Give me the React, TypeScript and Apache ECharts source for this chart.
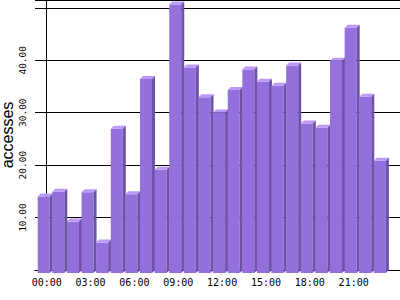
import React, { useEffect, useRef } from "react";
import * as echarts from "echarts";

const hours = [
  "00:00", "01:00", "02:00", "03:00", "04:00", "05:00", "06:00", "07:00",
  "08:00", "09:00", "10:00", "11:00", "12:00", "13:00", "14:00", "15:00",
  "16:00", "17:00", "18:00", "19:00", "20:00", "21:00", "22:00", "23:00",
];
const accesses = [
  14.6, 15.5, 9.8, 15.4, 5.8, 27.5, 15.0, 37.0, 19.7, 51.2, 39.2, 33.5,
  30.6, 34.9, 38.8, 36.5, 35.7, 39.6, 28.5, 27.7, 40.5, 46.8, 33.6, 21.4,
];
const xTickValues = [0, 3, 6, 9, 12, 15, 18, 21];
const yLabelValues = [10, 20, 30, 40];

const FRONT = "#9370DB";
const TOP = "#BB99F7";
const SIDE = "#6C53A8";

export default function App() {
  const ref = useRef<HTMLDivElement>(null);
  useEffect(() => {
    if (!ref.current) return;
    const chart = echarts.init(ref.current, undefined, { renderer: "svg" });
    const data = accesses.map((v, i) => [i, v]);
    chart.setOption({
      animation: false,
      backgroundColor: "#ffffff",
      grid: { left: 35, right: 0, top: 0, bottom: 30, containLabel: false, outerBoundsMode: "none" },
      xAxis: {
        type: "value",
        min: -0.8,
        max: 24.17,
        axisLine: { show: true, lineStyle: { color: "#000", width: 1 } },
        axisTick: { show: false },
        splitLine: { show: false },
        axisLabel: {
          customValues: xTickValues,
          formatter: (v: number) => hours[Math.round(v)] ?? "",
          fontFamily: "DejaVu Sans Mono",
          fontSize: 10,
          color: "#000",
          margin: 7,
        },
      },
      yAxis: {
        type: "value",
        min: 0,
        max: 51.5,
        interval: 10,
        name: "accesses",
        nameLocation: "middle",
        nameRotate: 90,
        nameGap: 20,
        nameMoveOverlap: false,
        nameTextStyle: { fontFamily: "Liberation Sans", fontSize: 16, color: "#000" },
        axisLine: { show: true, lineStyle: { color: "#000", width: 1 } },
        axisTick: { show: false },
        splitLine: { show: true, lineStyle: { color: "#000", width: 1 } },
        axisLabel: {
          rotate: 90,
          margin: 8,
          fontFamily: "DejaVu Sans Mono",
          fontSize: 9.5,
          color: "#000",
          formatter: (v: number) => (yLabelValues.includes(v) ? v.toFixed(2) : ""),
        },
      },
      series: [
        {
          type: "custom",
          data,
          renderItem: (params: any, api: any) => {
            const i = api.value(0);
            const v = api.value(1);
            const top = api.coord([i, v]);
            const base = api.coord([i, 0]);
            const xc = top[0];
            const yT = top[1];
            const y0 = base[1];
            const hw = 6;
            const d = 3;
            return {
              type: "group",
              children: [
                {
                  type: "rect",
                  shape: { x: xc - hw - d, y: yT + d, width: hw * 2, height: y0 - yT },
                  style: { fill: FRONT },
                },
                {
                  type: "polygon",
                  shape: {
                    points: [
                      [xc - hw - d, yT + d],
                      [xc + hw - d, yT + d],
                      [xc + hw, yT],
                      [xc - hw, yT],
                    ],
                  },
                  style: { fill: TOP },
                },
                {
                  type: "polygon",
                  shape: {
                    points: [
                      [xc + hw - d, yT + d],
                      [xc + hw, yT],
                      [xc + hw, y0],
                      [xc + hw - d, y0 + d],
                    ],
                  },
                  style: { fill: SIDE },
                },
              ],
            };
          },
        },
      ],
    });
    return () => chart.dispose();
  }, []);
  return (
    <div
      ref={ref}
      style={{ position: "fixed", left: 0, top: 0, width: 400, height: 300 }}
    />
  );
}
